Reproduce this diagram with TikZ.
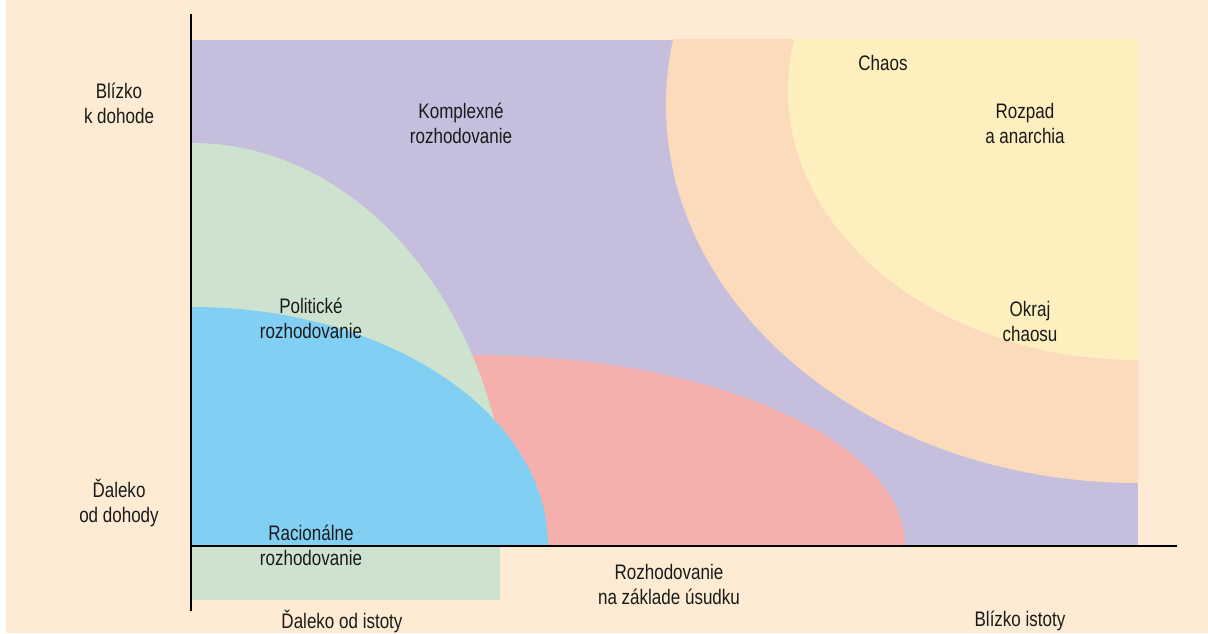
\documentclass[tikz,border=0pt]{standalone}
\usepackage{fontspec}
\setmainfont{Liberation Sans}[FakeStretch=0.81]
\usetikzlibrary{positioning}

\definecolor{bgBeige}{HTML}{FDEBD3}
\definecolor{complexLilac}{HTML}{C5BEDD}
\definecolor{politicGreen}{HTML}{CDE3D0}
\definecolor{rationalBlue}{HTML}{82CFF4}
\definecolor{judgePink}{HTML}{F5B0AE}
\definecolor{edgePeach}{HTML}{FCDBBC}
\definecolor{chaosYellow}{HTML}{FEF0BE}
\definecolor{labelText}{HTML}{1A1A1A}

\tikzset{%
  % Specifications for style of labels and axes:
       labelbase/.style = {align=center, inner sep=0pt, text=labelText,
                           font=\fontsize{21}{25}\selectfont},
      axislabel/.style = {labelbase},
    regionlabel/.style = {labelbase},
       axisline/.style = {line width=2.6pt, black},
}

\begin{document}
\begin{tikzpicture}[x=1pt, y=1pt]
\useasboundingbox (0,0) rectangle (1208,633);
\fill[bgBeige] (6,0) rectangle (1208,633);

% regions
\fill[politicGreen] (192,33) rectangle (500,87);
\begin{scope}
  \clip (192,87) rectangle (1138,593);
  \fill[complexLilac] (192,87) rectangle (1138,593);
  \fill[judgePink]    (473,87)   ellipse [x radius=432pt, y radius=191pt];
  \fill[politicGreen] (192,87)   ellipse [x radius=318pt, y radius=403pt];
  \fill[rationalBlue] (192,87)   ellipse [x radius=356pt, y radius=239pt];
  \fill[edgePeach]    (1138,528) ellipse [x radius=472pt, y radius=378pt];
  \fill[chaosYellow]  (1138,543) ellipse [x radius=350pt, y radius=270pt];
\end{scope}

% axes
\coordinate (Origin) at (191,87);
\coordinate (YTop)   at (191,619);
\coordinate (YBot)   at (191,22);
\coordinate (XEnd)   at (1177,87);
\draw[axisline] (YBot) -- (YTop);
\draw[axisline] (Origin) -- (XEnd);

\node (NearAgree) [axislabel] at (119,530) {Blízko\\k dohode};
\node (FarAgree)  [axislabel] at (119,130) {Ďaleko\\od dohody};
\node (FarCert)   [axislabel] at (342,12)  {Ďaleko od istoty};
\node (NearCert)  [axislabel] at (1020,12) {Blízko istoty};

\node (Complex)   [regionlabel] at (461,510)  {Komplexné\\rozhodovanie};
\node (Political) [regionlabel] at (311,315)  {Politické\\rozhodovanie};
\node (Rational)  [regionlabel] at (311,88)   {Racionálne\\rozhodovanie};
\node (Judgement) [regionlabel] at (669,49)   {Rozhodovanie\\na základe úsudku};
\node (Chaos)     [regionlabel] at (883,570)  {Chaos};
\node (Anarchy)   [regionlabel] at (1025,510) {Rozpad\\a anarchia};
\node (EdgeChaos) [regionlabel] at (1030,312) {Okraj\\chaosu};
\end{tikzpicture}
\end{document}
